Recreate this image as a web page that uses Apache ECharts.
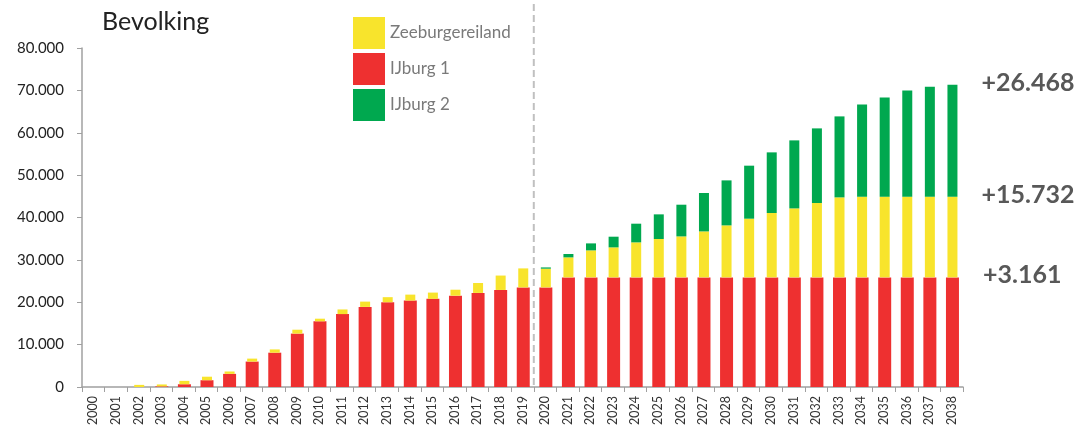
<!DOCTYPE html>
<html>
<head>
    <meta charset="utf-8">
    <title>Bevolking</title>
    <script src="https://cdn.jsdelivr.net/npm/echarts@6/dist/echarts.min.js"></script>
</head>
<body style="margin:0">
    <div id="main" style="width:1086px;height:430px;"></div>
    <script type="text/javascript">
        // jaren (categorieen)
        var jaren = ['2000', '2001', '2002', '2003', '2004', '2005', '2006', '2007', '2008', '2009',
            '2010', '2011', '2012', '2013', '2014', '2015', '2016', '2017', '2018', '2019',
            '2020', '2021', '2022', '2023', '2024', '2025', '2026', '2027', '2028', '2029',
            '2030', '2031', '2032', '2033', '2034', '2035', '2036', '2037', '2038'];

        // bevolking per gebied
        var ijburg1 = [0, 0, 0, 150, 650, 1600, 3100, 6000, 8100, 12600,
            15500, 17200, 18900, 20000, 20400, 20800, 21550, 22200, 22900, 23500,
            23500, 25870, 25870, 25870, 25870, 25870, 25870, 25870, 25870, 25870,
            25870, 25870, 25870, 25870, 25870, 25870, 25870, 25870, 25870];
        var zeeburgereiland = [0, 0, 500, 450, 800, 830, 560, 700, 770, 920,
            620, 1100, 1250, 1200, 1400, 1480, 1410, 2340, 3400, 4490,
            4420, 4720, 6370, 7080, 8260, 9060, 9670, 10850, 12270, 13850,
            15190, 16280, 17550, 18880, 19040, 19040, 19040, 19040, 19040];
        var ijburg2 = [0, 0, 0, 0, 0, 0, 0, 0, 0, 0,
            0, 0, 0, 0, 0, 0, 0, 0, 0, 0,
            300, 800, 1650, 2520, 4410, 5810, 7480, 9060, 10620, 12510,
            14310, 16050, 17610, 19110, 21780, 23430, 25090, 25960, 26430];

        // groei-labels rechts (IJburg 1, Zeeburgereiland, IJburg 2)
        var groei = ['+3.161', '+15.732', '+26.468'];

        var font = 'Lato, "Noto Sans", sans-serif';
        var laatste = jaren.length - 1;

        // alleen het laatste jaar krijgt een label
        function metLabel(values, tekst) {
            return values.map(function (v, i) {
                if (i !== laatste) return v;
                return {
                    value: v,
                    label: {
                        show: true,
                        position: ['100%', '0%'],
                        align: 'left',
                        verticalAlign: 'middle',
                        offset: [24, -2],
                        formatter: tekst,
                        fontFamily: font,
                        fontSize: 25,
                        fontWeight: 'bold',
                        color: '#585858'
                    }
                };
            });
        }

        var myChart = echarts.init(document.getElementById('main'));

        myChart.setOption({
            animation: false,
            textStyle: { fontFamily: font },
            title: {
                text: 'Bevolking',
                left: 97,
                top: 4,
                textStyle: { fontFamily: font, fontSize: 25, fontWeight: 'normal', color: '#222' }
            },
            legend: {
                data: ['Zeeburgereiland', 'IJburg 1', 'IJburg 2'],
                orient: 'vertical',
                left: 348,
                top: 12,
                icon: 'rect',
                itemWidth: 32,
                itemHeight: 32,
                itemGap: 4,
                selectedMode: false,
                textStyle: { fontFamily: font, fontSize: 17, color: '#7a7a7a' }
            },
            grid: { left: 82, right: 123, top: 48, bottom: 43 },
            xAxis: {
                type: 'category',
                data: jaren,
                axisLine: { lineStyle: { color: '#a0a0a0', width: 1.5 } },
                axisTick: { show: true, length: 5, lineStyle: { color: '#a0a0a0' } },
                axisLabel: { rotate: 90, interval: 0, fontSize: 12.5, color: '#333', margin: 9 }
            },
            yAxis: {
                type: 'value',
                min: 0,
                max: 80000,
                interval: 10000,
                axisLine: { show: true, lineStyle: { color: '#a0a0a0', width: 1.5 } },
                axisTick: { show: true, length: 5, lineStyle: { color: '#a0a0a0' } },
                splitLine: { show: false },
                axisLabel: {
                    fontSize: 15,
                    color: '#222',
                    margin: 18,
                    formatter: function (v) {
                        return String(v).replace(/\B(?=(\d{3})+(?!\d))/g, '.');
                    }
                }
            },
            series: [
                {
                    name: 'IJburg 1',
                    type: 'bar',
                    stack: 'a',
                    barWidth: 13,
                    barGap: '-88.5%',
                    itemStyle: { color: '#ee3030' },
                    data: metLabel(ijburg1, groei[0])
                },
                {
                    name: 'basis',
                    type: 'bar',
                    stack: 'b',
                    barWidth: 10,
                    silent: true,
                    itemStyle: { color: 'rgba(0,0,0,0)' },
                    data: ijburg1
                },
                {
                    name: 'Zeeburgereiland',
                    type: 'bar',
                    stack: 'b',
                    itemStyle: { color: '#f8e42c' },
                    data: metLabel(zeeburgereiland, groei[1])
                },
                {
                    name: 'IJburg 2',
                    type: 'bar',
                    stack: 'b',
                    itemStyle: { color: '#00a84f' },
                    data: metLabel(ijburg2, groei[2])
                }
            ]
        });

        // stippellijn tussen 2019 en 2020 (realisatie / prognose)
        var x1 = myChart.convertToPixel({ xAxisIndex: 0 }, '2019');
        var x2 = myChart.convertToPixel({ xAxisIndex: 0 }, '2020');
        var y0 = myChart.convertToPixel({ yAxisIndex: 0 }, 0);
        var xm = (x1 + x2) / 2;
        myChart.setOption({
            graphic: [{
                type: 'line',
                silent: true,
                z: 0,
                shape: { x1: xm, y1: 4, x2: xm, y2: y0 },
                style: { stroke: '#c0c0c0', lineWidth: 2, lineDash: [7, 4] }
            }]
        });
    </script>
</body>
</html>
